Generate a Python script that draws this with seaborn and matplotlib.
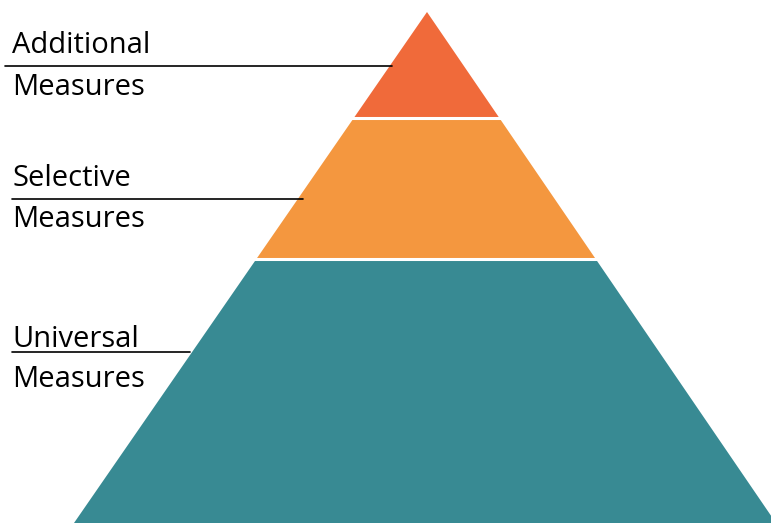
import matplotlib
matplotlib.use("Agg")
import matplotlib.pyplot as plt
import seaborn as sns
import numpy as np

# Data
tiers = ["Universal Measures", "Selective Measures", "Additional Measures"]
tier_top_labels = ["Universal", "Selective", "Additional"]
tier_bottom_labels = ["Measures", "Measures", "Measures"]
# tier boundaries measured from top of pyramid (pixels-like units), bottom->top
tier_lower = [523, 259, 117.5]
tier_upper = [259, 117.5, 12]
tier_colors = ["#388A93", "#F4973F", "#F06A3A"]
label_line_y = [352, 199, 66]
label_line_x0 = [12, 12, 5]
label_line_x1 = [190, 303, 392]
label_top_baseline = [347, 186, 53]
label_bottom_baseline = [387, 227, 95]

apex_x, apex_y = 427, 12
base_left, base_right, base_y = 74, 776, 523

sns.set_theme(style="white")
plt.rcParams['font.family'] = ['Open Sans', 'DejaVu Sans']

fig = plt.figure(figsize=(7.71, 5.23), dpi=100)
ax = fig.add_axes([0, 0, 1, 1])
ax.set_xlim(0, 771)
ax.set_ylim(523, 0)
ax.axis("off")

def edge_x(y, base_x):
    return apex_x + (base_x - apex_x) * (y - apex_y) / (base_y - apex_y)

for lo, hi, col in zip(tier_lower, tier_upper, tier_colors):
    if lo >= base_y:
        lo = lo + 5
    xs = [edge_x(lo, base_left), edge_x(lo, base_right), edge_x(hi, base_right), edge_x(hi, base_left)]
    ys = [lo, lo, hi, hi]
    ax.fill(xs, ys, color=col, linewidth=0)

# white separators between tiers
for hi in tier_upper[:-1]:
    ax.axhline(hi, color="white", linewidth=2.2)

for y, x0, x1, t1, t2, b1, b2 in zip(label_line_y, label_line_x0, label_line_x1,
                                     tier_top_labels, tier_bottom_labels,
                                     label_top_baseline, label_bottom_baseline):
    sns.lineplot(x=[x0, x1], y=[y, y], ax=ax, color="black", linewidth=1.2)
    ax.text(12, b1, t1, fontsize=21, color="black", va="baseline", ha="left")
    ax.text(12, b2, t2, fontsize=21, color="black", va="baseline", ha="left")

fig.savefig("out.png", dpi=100)
